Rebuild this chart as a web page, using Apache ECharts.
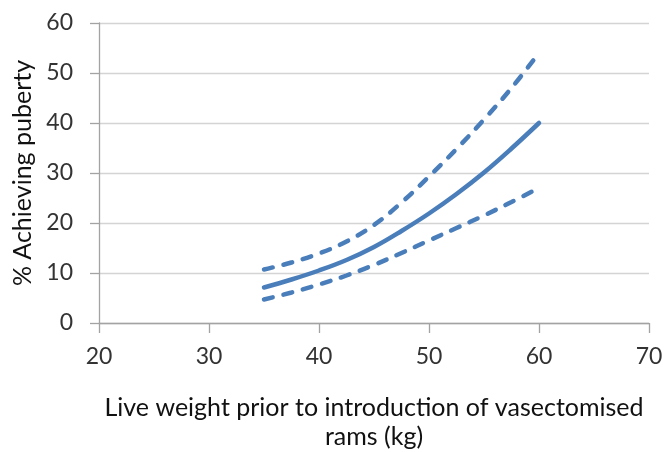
<!DOCTYPE html>
<html>
<head>
<meta charset="utf-8">
<script src="https://cdn.jsdelivr.net/npm/echarts@6/dist/echarts.min.js"></script>
<style>
  html, body { margin: 0; padding: 0; background: #fff; }
  #chart { width: 664px; height: 452px; }
</style>
</head>
<body>
<div id="chart"></div>
<script>
// Live weight (kg) at which the fitted curve and its bounds are evaluated
const liveWeight = [35, 37.5, 40, 42.5, 45, 47.5, 50, 52.5, 55, 57.5, 60];
// Fitted % achieving puberty
const fitted = [7.1, 8.7, 10.5, 12.6, 15.2, 18.4, 21.9, 25.8, 30.1, 34.9, 40.0];
// Upper and lower confidence bounds
const upperBound = [10.7, 12.1, 13.9, 16.3, 19.6, 24.1, 29.3, 34.8, 40.7, 47.0, 54.0];
const lowerBound = [4.7, 6.1, 7.7, 9.5, 11.6, 14.0, 16.5, 19.0, 21.5, 24.2, 27.0];

const xTitle = 'Live weight prior to introduction of vasectomised\nrams (kg)';
const yTitle = '% Achieving puberty';

const FONT = 'Lato, "Liberation Sans", sans-serif';
const LINE = '#4a7ebb';
const AXIS = '#a3a3a3';

const pairs = ys => liveWeight.map((x, i) => [x, ys[i]]);

const chart = echarts.init(document.getElementById('chart'), null, { renderer: 'canvas' });

const dashed = { color: LINE, width: 4.5, type: [9, 11], cap: 'round' };

chart.setOption({
  animation: false,
  backgroundColor: '#fff',
  grid: { left: 99, right: 15, top: 23, bottom: 129, containLabel: false, outerBoundsMode: 'none' },
  xAxis: {
    type: 'value', min: 20, max: 70, interval: 10,
    name: xTitle, nameLocation: 'middle', nameGap: 70,
    nameTextStyle: { fontFamily: FONT, fontSize: 25, color: '#111', lineHeight: 29 },
    axisLine: { show: true, onZero: false, lineStyle: { color: AXIS, width: 1.3 } },
    axisTick: { show: true, length: 10, inside: false, lineStyle: { color: AXIS, width: 1.3 } },
    axisLabel: { fontFamily: FONT, fontSize: 23, color: '#333', margin: 22 },
    splitLine: { show: false }
  },
  yAxis: {
    type: 'value', min: 0, max: 60, interval: 10,
    name: yTitle, nameLocation: 'middle', nameGap: 57, nameRotate: 90,
    nameTextStyle: { fontFamily: FONT, fontSize: 25, color: '#111' },
    axisLine: { show: true, lineStyle: { color: AXIS, width: 1.3 } },
    axisTick: { show: true, length: 9, inside: false, lineStyle: { color: AXIS, width: 1.3 } },
    axisLabel: { fontFamily: FONT, fontSize: 23, color: '#333', margin: 26 },
    splitLine: { show: true, lineStyle: { color: '#d4d4d4', width: 1.3 } }
  },
  series: [
    { type: 'line', data: pairs(upperBound), smooth: 0.4, showSymbol: false, lineStyle: dashed, z: 3 },
    { type: 'line', data: pairs(fitted), smooth: 0.4, showSymbol: false,
      lineStyle: { color: LINE, width: 4.5, cap: 'round' }, z: 4 },
    { type: 'line', data: pairs(lowerBound), smooth: 0.4, showSymbol: false, lineStyle: dashed, z: 3 }
  ]
});
</script>
</body>
</html>
